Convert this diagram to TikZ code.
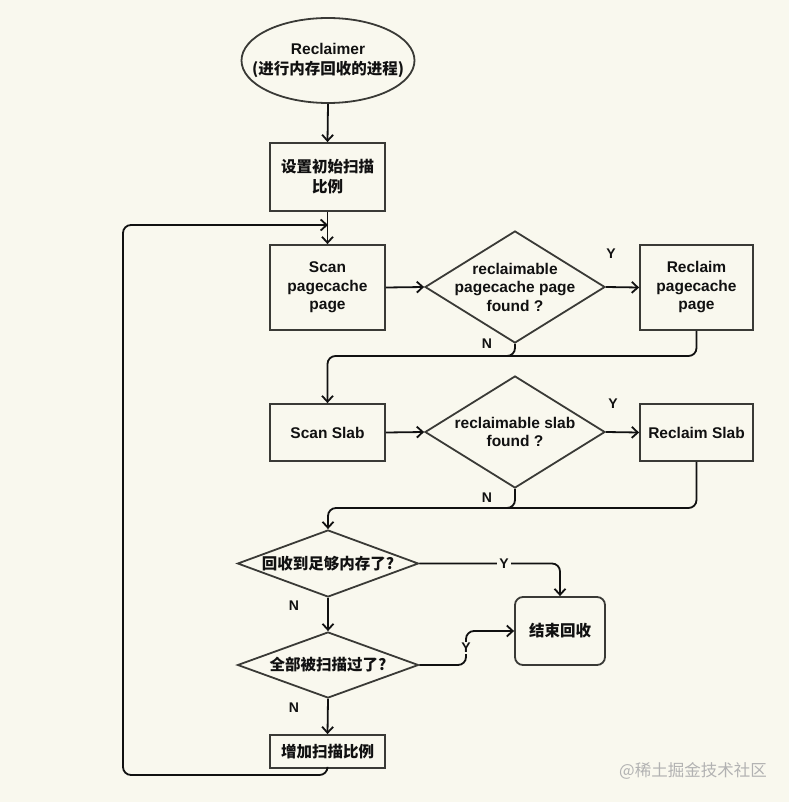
\documentclass[tikz,border=0pt]{standalone}
\usepackage{fontspec}
\setmainfont{Liberation Sans}
\newfontfamily\cjk{Noto Sans CJK SC}
\usetikzlibrary{shapes.geometric,arrows.meta}
\definecolor{bg}{HTML}{F9F8EE}
\definecolor{edge}{HTML}{3A3A36}
\definecolor{ink}{HTML}{111111}
\tikzset{
  shapebox/.style={draw=edge,line width=1.8pt,inner sep=0pt},
  rect/.style={shapebox,rectangle,minimum width=115pt,minimum height=#1},
  dia/.style={shapebox,diamond,minimum width=#1},
  entxt/.style={font=\fontsize{15.5}{18.5}\selectfont\bfseries,text=ink,align=center},
  cntxt/.style={font=\cjk\fontsize{15.5}{20}\selectfont\bfseries,text=ink,align=center},
  lab/.style={font=\fontsize{14}{16}\selectfont\bfseries,text=ink},
  arr/.style={draw=ink,line width=1.8pt,-{Straight Barb[length=6pt,width=11pt,line width=1.8pt]}},
  ln/.style={draw=ink,line width=1.8pt},
}
\begin{document}
\begin{tikzpicture}[x=1pt,y=-1pt]
\fill[bg] (0,0) rectangle (789,802);
\useasboundingbox (0,0) rectangle (789,802);
% start ellipse
\node[shapebox,ellipse,minimum width=173pt,minimum height=85pt] (start) at (328,60.5) {};
\node[entxt,font=\fontsize{15.5}{20}\selectfont\bfseries] (starttxt) at (start) {Reclaimer\\{\cjk(进行内存回收的进程)}};
% boxes
\node[rect=68pt] (init) at (327.5,177) {};
\node[cntxt] (inittxt) at (init) {设置初始扫描\\比例};
\node[rect=85pt] (scanp) at (327.5,287.5) {};
\node[entxt] (scanptxt) at (scanp) {Scan\\pagecache\\page};
\node[dia=180pt,minimum height=112pt,aspect=1.6] (d1) at (515,287) {};
\node[entxt] (d1txt) at (d1) {reclaimable\\pagecache page\\found ?};
\node[rect=85pt,minimum width=113pt] (recp) at (696.5,287.5) {};
\node[entxt] (recptxt) at (recp) {Reclaim\\pagecache\\page};
\node[rect=57pt] (scans) at (327.5,432.5) {};
\node[entxt] (scanstxt) at (scans) {Scan Slab};
\node[dia=180pt,minimum height=112pt,aspect=1.6] (d2) at (515,432) {};
\node[entxt] (d2txt) at (d2) {reclaimable slab\\found ?};
\node[rect=57pt,minimum width=113pt] (recs) at (696.5,432.5) {};
\node[entxt] (recstxt) at (recs) {Reclaim Slab};
\node[dia=181pt,minimum height=67pt,aspect=2.7] (d3) at (328,563.5) {};
\node[cntxt] (d3txt) at (d3) {回收到足够内存了?};
\node[dia=181pt,minimum height=66pt,aspect=2.7] (d4) at (328,665) {};
\node[cntxt] (d4txt) at (d4) {全部被扫描过了?};
\node[shapebox,rectangle,rounded corners=8pt,minimum width=90pt,minimum height=68pt] (endb) at (560,631) {};
\node[cntxt] (endtxt) at (endb) {结束回收};
\node[rect=33pt] (inc) at (327.5,751.5) {};
\node[cntxt] (inctxt) at (inc) {增加扫描比例};
% coordinates
\coordinate (merge) at (328,225);
\coordinate (loopbl) at (123,775);
\coordinate (n1) at (515,356);
\coordinate (n1l) at (505,356);
\coordinate (n2) at (515,508);
\coordinate (n2l) at (505,508);
\coordinate (k1) at (466,665);
% connectors
\draw[arr] (start.south) -- (init.north);
\draw[arr] (init.south) -- (scanp.north);
\draw[arr,rounded corners=8pt] (inc.south) |- (loopbl) |- (merge);
\draw[arr] (scanp.east) -- (d1.west);
\draw[arr] (d1.east) -- (recp.west);
\draw[arr,rounded corners=8pt] (d1.south) -- (n1) -| (scans.north);
\draw[ln,rounded corners=8pt] (recp.south) |- (n1l);
\draw[arr] (scans.east) -- (d2.west);
\draw[arr] (d2.east) -- (recs.west);
\draw[arr,rounded corners=8pt] (d2.south) -- (n2) -| (d3.north);
\draw[ln,rounded corners=8pt] (recs.south) |- (n2l);
\draw[arr,rounded corners=8pt] (d3.east) -| (endb.north);
\draw[arr] (d3.south) -- (d4.north);
\draw[arr,rounded corners=8pt] (d4.east) -- (k1) |- (endb.west);
\draw[arr] (d4.south) -- (inc.north);
% labels
\node[lab] (y1) at (611,254) {Y};
\node[lab] (nn1) at (487,344) {N};
\node[lab] (y2) at (613,404) {Y};
\node[lab] (nn2) at (487,498) {N};
\node[lab,fill=bg,inner sep=2pt] (y3) at (504,563.5) {Y};
\node[lab] (nn3) at (294,606) {N};
\node[lab,fill=bg,inner sep=1pt] (y4) at (466,648) {Y};
\node[lab] (nn4) at (294,708) {N};
% watermark
\node[font=\cjk\fontsize{16.5}{18}\selectfont,text=black!30] (wm) at (693,771) {@稀土掘金技术社区};
\end{tikzpicture}
\end{document}
